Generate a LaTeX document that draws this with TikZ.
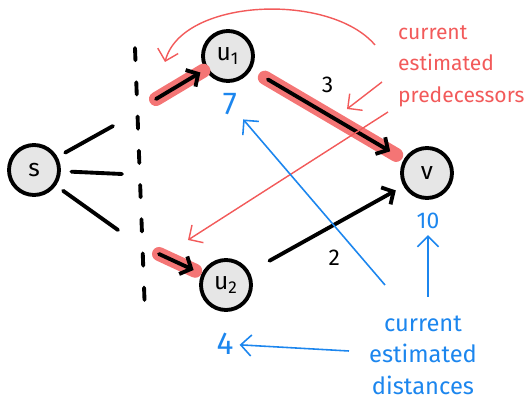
\documentclass[tikz,border=0pt]{standalone}
\usepackage{fontspec}
\setmainfont{Fira Sans}
\usetikzlibrary{arrows.meta, positioning}
\definecolor{hlred}{HTML}{F47575}
\definecolor{notered}{HTML}{F25A5A}
\definecolor{noteblue}{HTML}{1C86EE}
\definecolor{nodegray}{HTML}{E6E6E6}
\tikzset{vertex/.style={circle,draw,line width=2.2pt,fill=nodegray,minimum size=1.0cm,inner sep=0pt,font=\fontsize{14}{14}\selectfont},
  edge/.style={line width=2.2pt,line cap=round,-{Straight Barb[length=5pt,width=11pt]}},
  cutline/.style={line width=2.2pt,line cap=round},
  hilite/.style={line width=8pt,line cap=round,hlred},
  rednote/.style={notered,line width=0.8pt,-{Straight Barb[length=6pt,width=12pt]}},
  bluenote/.style={noteblue,line width=0.9pt,-{Straight Barb[length=6pt,width=12pt]}},
  notetext/.style={font=\fontsize{12}{18}\selectfont}}

\begin{document}
\begin{tikzpicture}[x=0.02cm,y=-0.02cm]
\useasboundingbox (0,0) rectangle (529,399);
% vertices
\node[vertex] (s) at (34,170) {s};
\node[vertex] (u1) at (228,56) {u\textsubscript{1}};
\node[vertex] (u2) at (226,285) {u\textsubscript{2}};
\node[vertex] (v) at (427,173) {v};
% distance labels
\node[noteblue,font=\fontsize{18}{18}\selectfont] (d7) at (230,104) {7};
\node[noteblue,font=\fontsize{18}{18}\selectfont] (d4) at (225,344) {4};
\node[noteblue,font=\fontsize{13}{13}\selectfont] (d10) at (428,221) {10};
% cut
\coordinate (cuttop) at (135,48);
\coordinate (cutbot) at (145,313);
\draw[cutline,dash pattern=on 7pt off 12.5pt] (cuttop) -- (cutbot);
% edges out of s
\coordinate (sa) at (113,126);
\coordinate (sb) at (122,174);
\coordinate (sc) at (118,230);
\draw[cutline,shorten <=5pt] (s) -- (sa);
\draw[cutline,shorten <=6pt] (s) -- (sb);
\draw[cutline,shorten <=5pt] (s) -- (sc);
% predecessor edges
\coordinate (inu1) at (156,99);
\coordinate (inu2) at (159,254);
\draw[hilite,shorten >=1pt] (inu1) -- (u1);
\draw[hilite,shorten >=4pt] (inu2) -- (u2);
\draw[hilite,shorten <=9pt,shorten >=5pt] (u1) -- (v);
\draw[edge,shorten >=3pt] (inu1) -- (u1);
\draw[edge,shorten >=5pt] (inu2) -- (u2);
\draw[edge,shorten <=11pt,shorten >=9pt] (u1) -- node[above=8pt,font=\fontsize{13}{13}\selectfont] (w3) {3} (v);
\draw[edge,shorten <=13pt,shorten >=5pt] (u2) -- node[pos=0.55,below=10pt,font=\fontsize{13}{13}\selectfont] (w2) {2} (v);
% red notes
\node[notered,notetext,align=left,anchor=west] (pred) at (392,66) {current\\estimated\\predecessors};
\coordinate (pa) at (375,45);
\coordinate (pb) at (382,82);
\coordinate (pc) at (388,112);
\coordinate (ta) at (165,62);
\coordinate (tb) at (347,109);
\coordinate (tc) at (188,240);
\draw[rednote] (pa) .. controls (330,-8) and (182,-2) .. (ta);
\draw[rednote] (pb) -- (tb);
\draw[rednote] (pc) -- (tc);
% blue notes
\node[noteblue,font=\fontsize{13.5}{18}\selectfont,align=center] (dist) at (423,355) {current\\estimated\\distances};
\coordinate (qa) at (385,285);
\coordinate (qb) at (428,297);
\coordinate (qc) at (349,351);
\draw[bluenote] (qa) -- (d7);
\draw[bluenote] (qb) -- (d10);
\draw[bluenote] (qc) -- (d4);
\end{tikzpicture}
\end{document}
